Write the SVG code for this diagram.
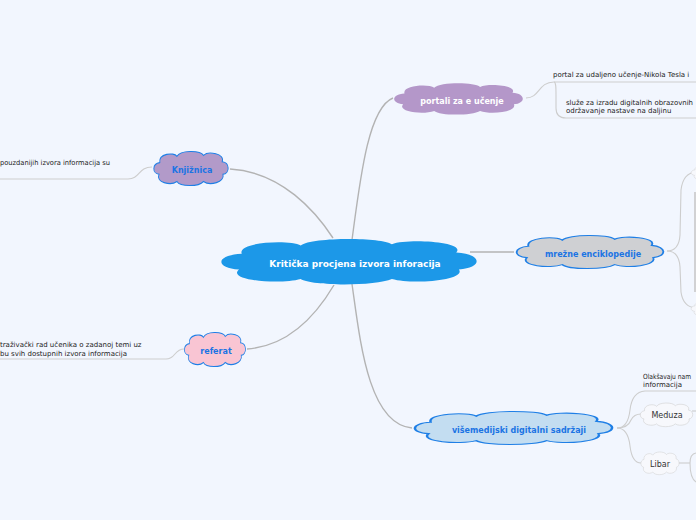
<svg xmlns="http://www.w3.org/2000/svg" xmlns:xlink="http://www.w3.org/1999/xlink" width="696" height="520" viewBox="0 0 696 520">
<style>
.bg{fill:#f2f6fe}
.lbl{font-family:"DejaVu Sans",Verdana,sans-serif;font-weight:bold;font-size:8px;fill:#1b74e4;text-anchor:middle}
.main{font-family:"DejaVu Sans",Verdana,sans-serif;font-weight:bold;font-size:9px;fill:#ffffff;text-anchor:middle}
.wlbl{font-family:"DejaVu Sans",Verdana,sans-serif;font-weight:bold;font-size:8px;fill:#ffffff;text-anchor:middle}
.sub{font-family:"DejaVu Sans",Verdana,sans-serif;font-size:8px;fill:#333;text-anchor:middle}
.txt{font-family:"DejaVu Sans",Verdana,sans-serif;font-size:7px;fill:#222}
.c1{fill:none;stroke:#b3b3b3;stroke-width:1.4}
.c2{fill:none;stroke:#cdcdcd;stroke-width:1.1}
.cs{stroke:#1f7fe6;stroke-width:1.2;vector-effect:non-scaling-stroke}
.cg{stroke:#cfcfcf;stroke-width:1;vector-effect:non-scaling-stroke}
</style>
<defs>
<path id="cloud" d="M10,14 C8,4 28,2 32,7 C36,0 62,0 66,6 C72,1 94,4 90,13 C100,14 100,26 91,27 C94,36 74,40 66,35 C60,41 36,41 32,35 C24,40 4,36 9,27 C0,26 0,15 10,14 Z"/>
</defs>
<rect class="bg" x="0" y="0" width="696" height="520"/>

<g id="connectors">
<path class="c1" d="M230,169 C282,172 316,212 333,238"/>
<path class="c1" d="M247,349 C290,346 318,312 334,285"/>
<path class="c1" d="M352,240 C360,180 368,108 393,98"/>
<path class="c1" d="M470,252 L514,252"/>
<path class="c1" d="M352,284 C360,340 368,424 412,428"/>
<path class="c2" d="M0,179 L128,179 C140,179 138,167 152,167"/>
<path class="c2" d="M0,359 L166,359 C176,359 174,349 184,349"/>
<path class="c2" d="M526,98 C540,98 538,82 554,82 L696,82"/>
<path class="c2" d="M554,82 C556,82 556,88 556,95 L556,108 C556,114 558,118 566,118 L696,118"/>
<path class="c2" d="M667,251 Q679,251 680,235 L681,190 Q683,173 696,172"/>
<path class="c2" d="M667,251 Q679,251 680,267 L681,292 Q683,307 696,308"/>
<path d="M695,192 L695,292" stroke="#c8c8c8" stroke-width="1.6" fill="none"/>
<path class="c2" d="M617,428 Q628,428 630,410 Q632,392 645,391 L696,391"/>
<path class="c2" d="M617,428 Q628,428 631,420 Q634,414 641,414"/>
<path class="c2" d="M617,428 Q628,428 630,446 Q632,463 641,463"/>
<path class="c2" d="M679,463 L690,463"/>
<path class="c2" d="M690,463 Q690,454 696,453"/>
<path class="c2" d="M690,463 Q690,478 696,482"/>
<path class="c2" d="M692,411 L696,411"/>
</g>

<g id="n-center">
<use xlink:href="#cloud" href="#cloud" transform="translate(215,237) scale(2.68,1.2)" fill="#1c98e8"/>
<text class="main" x="355" y="267">Kritička procjena izvora inforacija</text>
</g>

<g id="n-knjiznica">
<use xlink:href="#cloud" href="#cloud" class="cs" transform="translate(152,150) scale(0.78,0.9)" fill="#b29ac9"/>
<text class="lbl" x="192" y="173">Knjižnica</text>
<text class="txt" x="0" y="165" textLength="110" lengthAdjust="spacingAndGlyphs">pouzdanijih izvora informacija su</text>
</g>

<g id="n-referat">
<use xlink:href="#cloud" href="#cloud" class="cs" transform="translate(183,331) scale(0.64,0.9)" fill="#f9c5d3"/>
<text class="lbl" x="216" y="354">referat</text>
<text class="txt" x="0" y="347">traživački rad učenika o zadanoj temi uz</text>
<text class="txt" x="0" y="356">bu svih dostupnih izvora informacija</text>
</g>

<g id="n-portali">
<use xlink:href="#cloud" href="#cloud" transform="translate(391,82) scale(1.35,0.825)" fill="#b497c9"/>
<text class="wlbl" x="462" y="104">portali za e učenje</text>
<text class="txt" x="553" y="77">portal za udaljeno učenje-Nikola Tesla i</text>
<text class="txt" x="566" y="105" textLength="127" lengthAdjust="spacingAndGlyphs">služe za izradu digitalnih obrazovnih</text>
<text class="txt" x="566" y="113">održavanje nastave na daljinu</text>
</g>

<g id="n-mrezne">
<use xlink:href="#cloud" href="#cloud" class="cs" transform="translate(513,234) scale(1.54,0.875)" fill="#cfd0d3"/>
<text class="lbl" x="593" y="257">mrežne enciklopedije</text>
</g>

<g id="n-right1">
<use xlink:href="#cloud" href="#cloud" class="cg" transform="translate(690,164) scale(0.5,0.42)" fill="#f7f8fc"/>
</g>
<g id="n-right2">
<use xlink:href="#cloud" href="#cloud" class="cg" transform="translate(690,300) scale(0.5,0.42)" fill="#f7f8fc"/>
</g>

<g id="n-visemedijski">
<use xlink:href="#cloud" href="#cloud" class="cs" transform="translate(410,410) scale(2.07,0.875)" fill="#c3ddf1"/>
<text class="lbl" x="519" y="433">višemedijski digitalni sadržaji</text>
<text class="txt" x="643" y="379" textLength="48" lengthAdjust="spacingAndGlyphs">Olakšavaju nam</text>
<text class="txt" x="643" y="387">informacija</text>
</g>

<g id="n-meduza">
<use xlink:href="#cloud" href="#cloud" class="cg" transform="translate(639,402) scale(0.55,0.625)" fill="#f7f8fc"/>
<text class="sub" x="667" y="418">Meduza</text>
</g>

<g id="n-libar">
<use xlink:href="#cloud" href="#cloud" class="cg" transform="translate(640,451) scale(0.4,0.6)" fill="#f7f8fc"/>
<text class="sub" x="660" y="467">Libar</text>
</g>
</svg>
